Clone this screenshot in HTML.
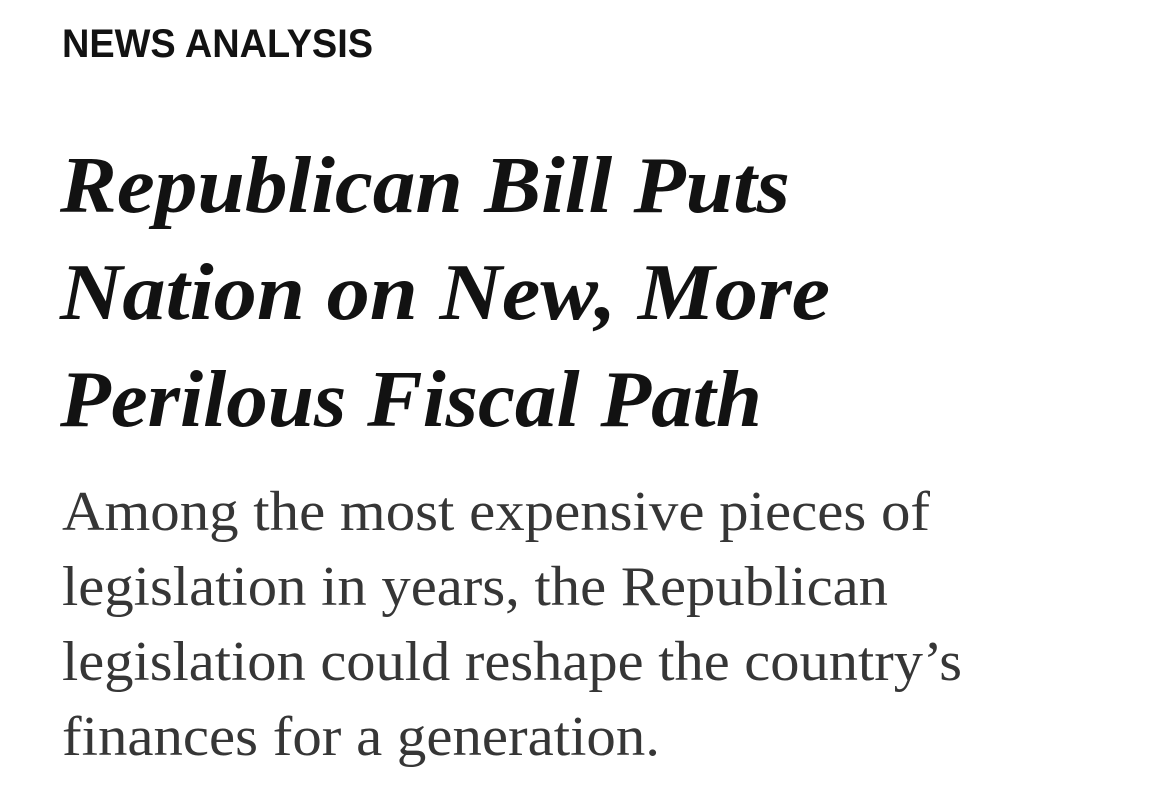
<!DOCTYPE html>
<html><head><meta charset="utf-8"><style>
html,body{margin:0;padding:0;background:#fff;width:1169px;height:796px;overflow:hidden}
svg{display:block}
</style></head><body>
<svg width="1169" height="796" viewBox="0 0 1169 796">
<text x="62" y="57" font-family="Liberation Sans, sans-serif" font-weight="bold" font-size="40" fill="#121212" textLength="311" lengthAdjust="spacingAndGlyphs">NEWS ANALYSIS</text>
<g font-family="Liberation Serif, serif" font-weight="bold" font-style="italic" font-size="80" fill="#121212">
<text x="60" y="212" textLength="730" lengthAdjust="spacingAndGlyphs">Republican Bill Puts</text>
<text x="60" y="319" textLength="770" lengthAdjust="spacingAndGlyphs">Nation on New, More</text>
<text x="60" y="426" textLength="702" lengthAdjust="spacingAndGlyphs">Perilous Fiscal Path</text>
</g>
<g font-family="Liberation Serif, serif" font-size="56" fill="#363636">
<text x="62" y="530" textLength="868" lengthAdjust="spacingAndGlyphs">Among the most expensive pieces of</text>
<text x="62" y="605" textLength="826" lengthAdjust="spacingAndGlyphs">legislation in years, the Republican</text>
<text x="62" y="680" textLength="900" lengthAdjust="spacingAndGlyphs">legislation could reshape the country’s</text>
<text x="62" y="755" textLength="598" lengthAdjust="spacingAndGlyphs">finances for a generation.</text>
</g>
</svg>
</body></html>
